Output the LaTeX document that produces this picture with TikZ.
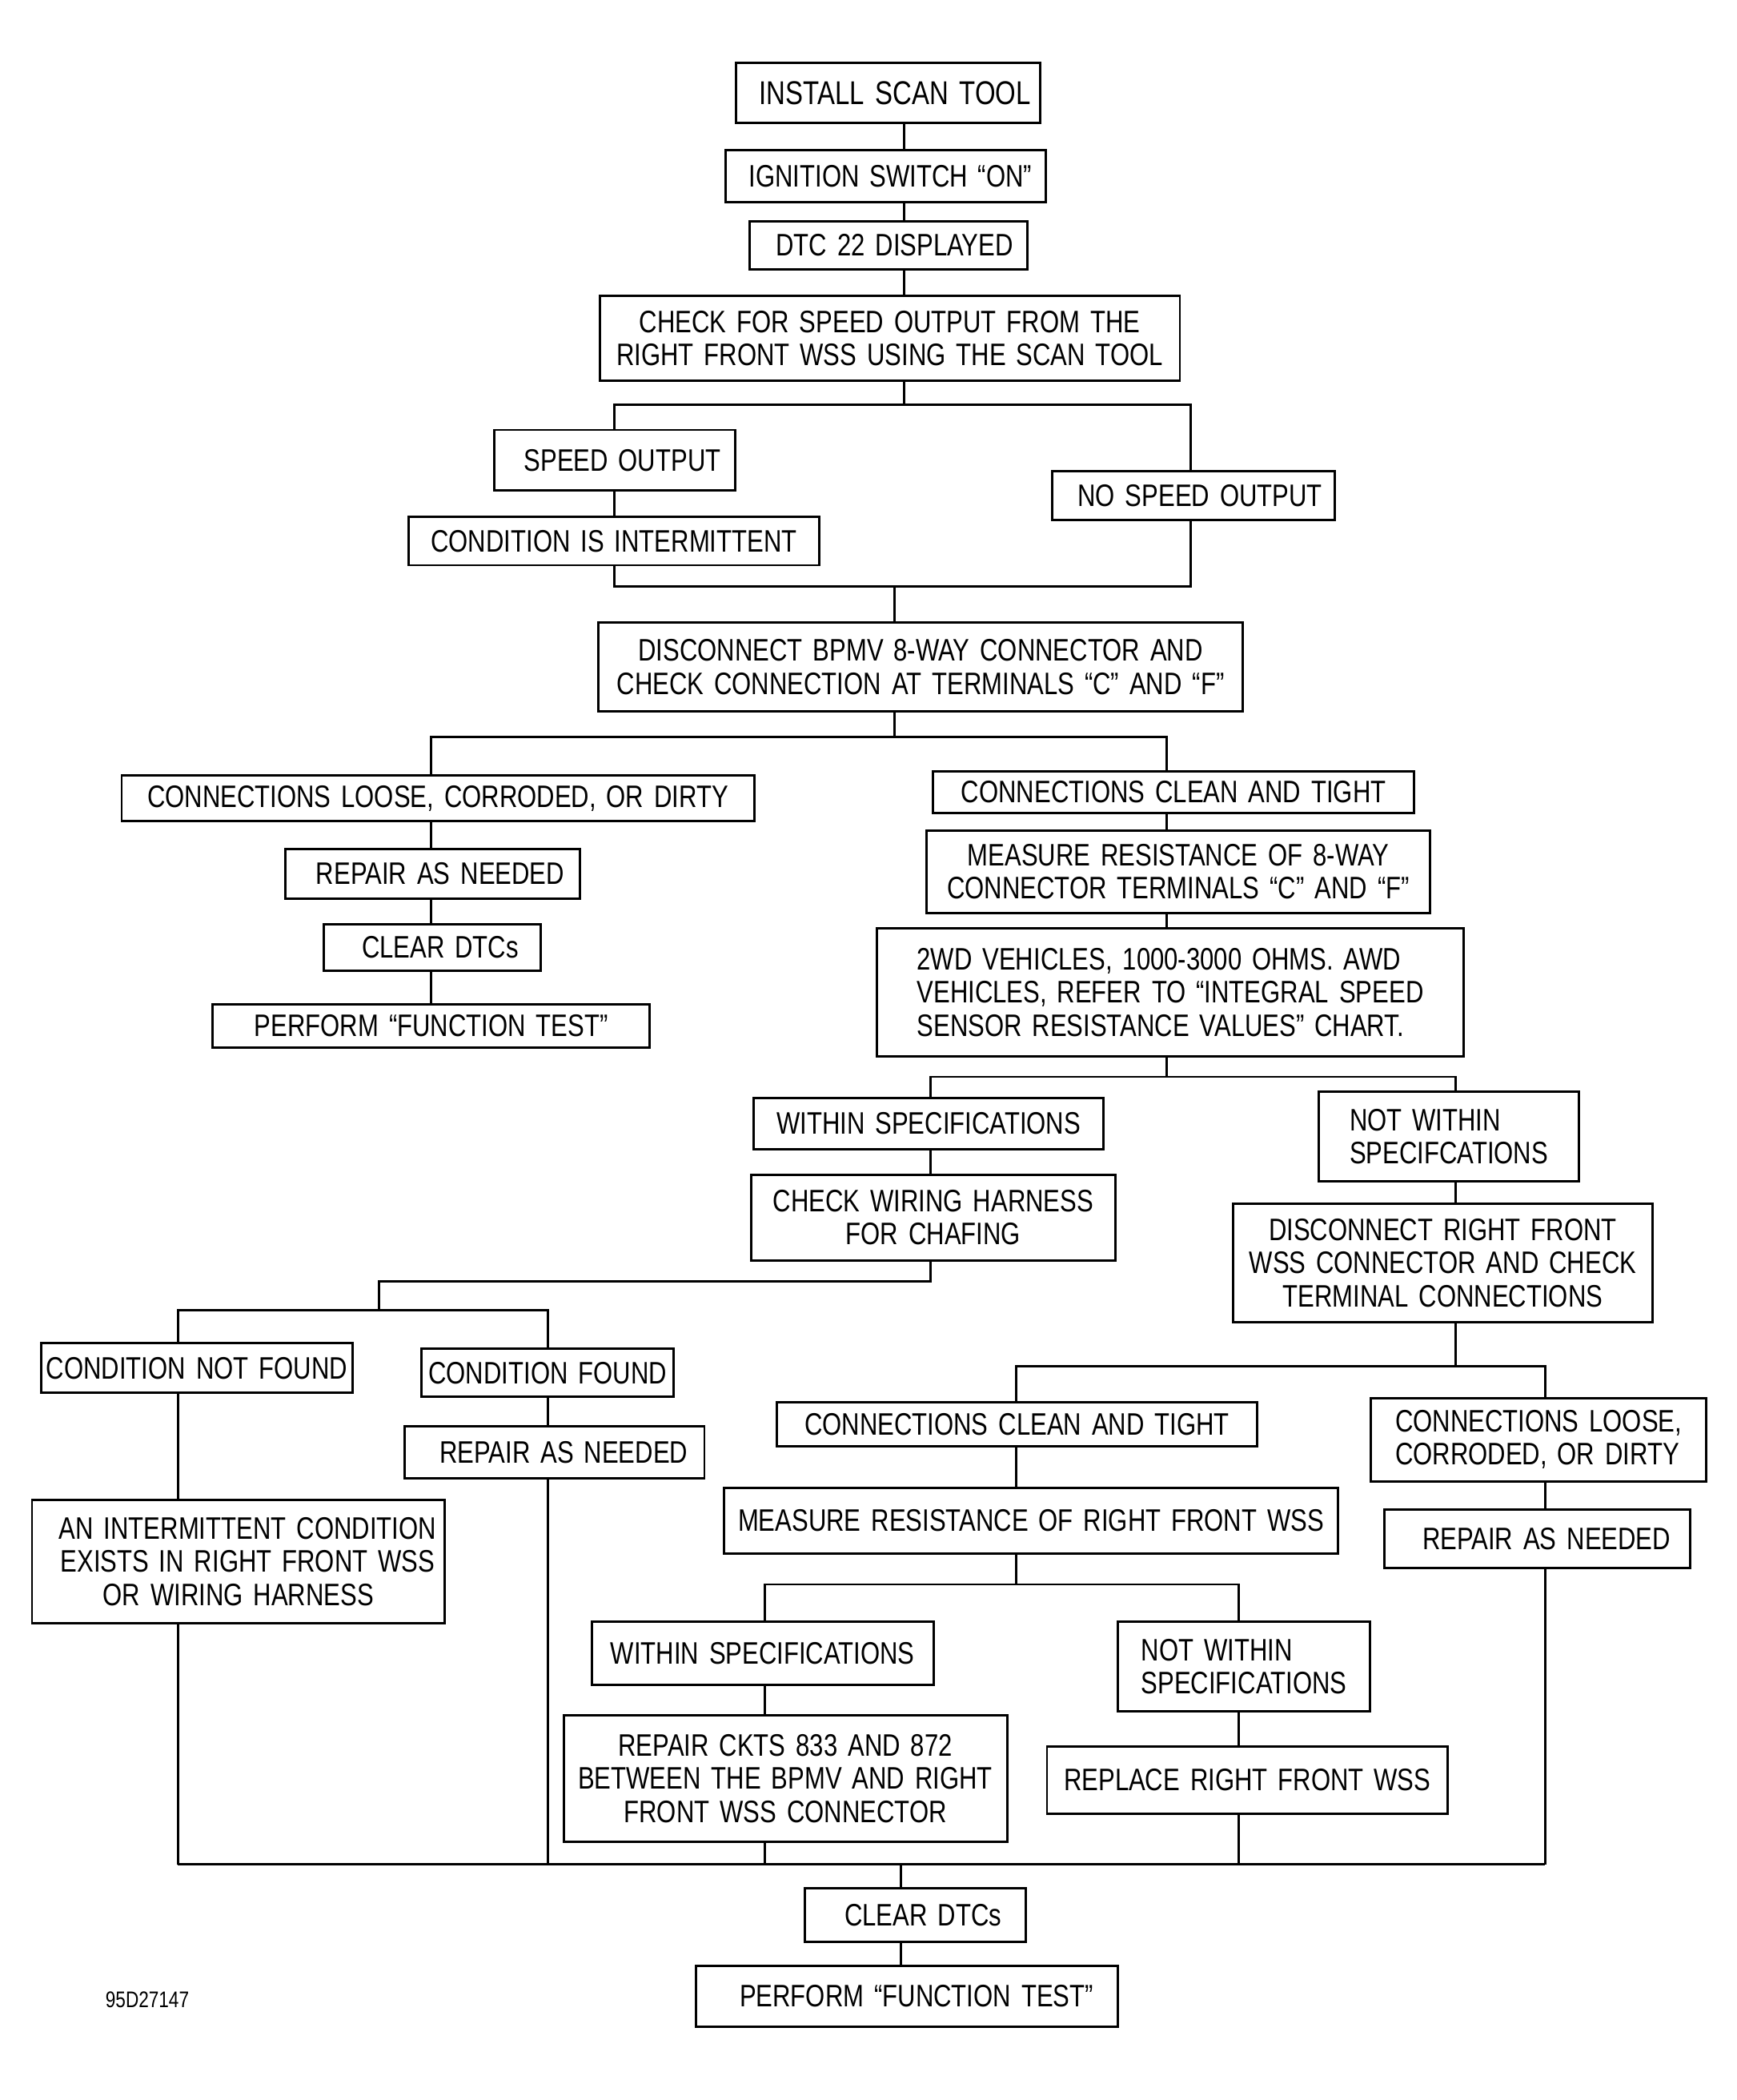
\documentclass[tikz,border=0pt]{standalone}
\usepackage{fontspec}
\setmainfont{Liberation Sans}[FakeStretch=0.8,WordSpace=1.5]
\begin{document}
\begin{tikzpicture}[x=0.01cm,y=-0.01cm,line width=0.5pt,
  box/.style={shape=rectangle,draw,align=center,inner sep=0pt,font=\fontsize{6.6}{7}\selectfont},
  lbox/.style={box,align=left}]
\useasboundingbox (0,0) rectangle (1297,1568);
\node[box,minimum width=2.27cm,minimum height=0.45cm,font=\fontsize{7}{7.5}\selectfont] (inst) at (663.5,69.5) {\hspace{0.4em}INSTALL SCAN TOOL};
\node[box,minimum width=2.39cm,minimum height=0.39cm] (ign) at (661.5,131.5) {\hspace{0.3em}IGNITION SWITCH “ON”};
\node[box,minimum width=2.07cm,minimum height=0.36cm] (dtc) at (663.5,183) {\hspace{0.4em}DTC 22 DISPLAYED};
\node[box,minimum width=4.33cm,minimum height=0.63cm] (chk) at (664.5,252.5) {CHECK FOR SPEED OUTPUT FROM THE\\RIGHT FRONT WSS USING THE SCAN TOOL};
\node[box,minimum width=1.80cm,minimum height=0.45cm] (spd) at (459,343.5) {\hspace{0.5em}SPEED OUTPUT};
\node[box,minimum width=3.07cm,minimum height=0.36cm] (cond) at (458.5,404) {CONDITION IS INTERMITTENT};
\node[box,minimum width=2.11cm,minimum height=0.36cm] (nospd) at (891.5,370) {\hspace{0.4em}NO SPEED OUTPUT};
\node[box,minimum width=4.81cm,minimum height=0.66cm] (disc) at (687.5,498) {DISCONNECT BPMV 8-WAY CONNECTOR AND\\CHECK CONNECTION AT TERMINALS “C” AND “F”};
\node[box,minimum width=4.72cm,minimum height=0.34cm] (loose) at (327,596) {CONNECTIONS LOOSE, CORRODED, OR DIRTY};
\node[box,minimum width=2.20cm,minimum height=0.37cm] (rep1) at (323,652.5) {\hspace{0.5em}REPAIR AS NEEDED};
\node[box,minimum width=1.62cm,minimum height=0.35cm] (clr1) at (323,707.5) {\hspace{0.5em}CLEAR DTCs};
\node[box,minimum width=3.26cm,minimum height=0.32cm] (perf1) at (322,766) {PERFORM “FUNCTION TEST”};
\node[box,minimum width=3.59cm,minimum height=0.31cm] (clean) at (876.5,591.5) {CONNECTIONS CLEAN AND TIGHT};
\node[box,minimum width=3.76cm,minimum height=0.62cm] (meas) at (880,651) {MEASURE RESISTANCE OF 8-WAY\\CONNECTOR TERMINALS “C” AND “F”};
\node[lbox,minimum width=4.38cm,minimum height=0.96cm] (twowd) at (874,741) {2WD VEHICLES, 1000-3000 OHMS. AWD\\VEHICLES, REFER TO “INTEGRAL SPEED\\SENSOR RESISTANCE VALUES” CHART.};
\node[box,minimum width=2.61cm,minimum height=0.38cm] (within) at (693.5,839) {WITHIN SPECIFICATIONS};
\node[box,minimum width=2.72cm,minimum height=0.64cm] (wiring) at (697,909) {CHECK WIRING HARNESS\\FOR CHAFING};
\node[lbox,minimum width=1.94cm,minimum height=0.67cm] (notw) at (1082,848.5) {NOT WITHIN\\SPECIFCATIONS};
\node[box,minimum width=3.13cm,minimum height=0.88cm] (discwss) at (1077.5,943) {DISCONNECT RIGHT FRONT\\WSS CONNECTOR AND CHECK\\TERMINAL CONNECTIONS};
\node[box,minimum width=2.32cm,minimum height=0.37cm] (cnf) at (147,1021.5) {CONDITION NOT FOUND};
\node[box,minimum width=1.88cm,minimum height=0.36cm] (cf) at (409,1025) {CONDITION FOUND};
\node[box,minimum width=2.24cm,minimum height=0.39cm] (rep2) at (414,1084.5) {\hspace{0.6em}REPAIR AS NEEDED};
\node[box,minimum width=3.08cm,minimum height=0.92cm] (inter) at (178,1166) {\hspace{0.6em}AN INTERMITTENT CONDITION\\\hspace{0.6em}EXISTS IN RIGHT FRONT WSS\\OR WIRING HARNESS};
\node[box,minimum width=3.59cm,minimum height=0.33cm] (clean2) at (759.5,1063.5) {CONNECTIONS CLEAN AND TIGHT};
\node[lbox,minimum width=2.50cm,minimum height=0.62cm] (loose2) at (1149,1075) {CONNECTIONS LOOSE,\\CORRODED, OR DIRTY};
\node[box,minimum width=4.58cm,minimum height=0.49cm] (meas2) at (770,1135.5) {MEASURE RESISTANCE OF RIGHT FRONT WSS};
\node[box,minimum width=2.28cm,minimum height=0.44cm] (rep3) at (1148,1149) {\hspace{0.6em}REPAIR AS NEEDED};
\node[box,minimum width=2.55cm,minimum height=0.47cm] (within2) at (569.5,1234.5) {WITHIN SPECIFICATIONS};
\node[box,minimum width=3.31cm,minimum height=0.94cm] (ckts) at (586.5,1328) {REPAIR CKTS 833 AND 872\\BETWEEN THE BPMV AND RIGHT\\FRONT WSS CONNECTOR};
\node[lbox,minimum width=1.88cm,minimum height=0.67cm] (notw2) at (929,1244.5) {NOT WITHIN\\SPECIFICATIONS};
\node[box,minimum width=2.99cm,minimum height=0.50cm] (repl) at (931.5,1329) {REPLACE RIGHT FRONT WSS};
\node[box,minimum width=1.65cm,minimum height=0.40cm] (clr2) at (683.5,1430) {\hspace{0.5em}CLEAR DTCs};
\node[box,minimum width=3.15cm,minimum height=0.45cm] (perf2) at (677.5,1490.5) {\hspace{0.6em}PERFORM “FUNCTION TEST”};
\node[font=\fontsize{4.8}{5}\selectfont] (fig) at (110,1493) {95D27147};
\coordinate (j1) at (675,302);
\coordinate (r1) at (889,302);
\coordinate (j2) at (668,438);
\coordinate (l2) at (459,438);
\coordinate (r2) at (889,438);
\coordinate (j3) at (668,550);
\coordinate (l3) at (322,550);
\coordinate (r3) at (871,550);
\coordinate (l4) at (695,804);
\coordinate (r4) at (1087,804);
\coordinate (j5) at (695,957);
\coordinate (j6) at (283,957);
\coordinate (l6) at (133,978);
\coordinate (r6) at (409,978);
\coordinate (j7) at (1087,1020);
\coordinate (l7) at (759,1020);
\coordinate (r7) at (1154,1020);
\coordinate (j8) at (759,1183);
\coordinate (l8) at (571,1183);
\coordinate (r8) at (925,1183);
\coordinate (j9) at (673,1392);
\coordinate (l9) at (133,1392);
\coordinate (r9) at (1154,1392);
\draw (inst.south -| j1) -- (ign.north -| j1);
\draw (ign.south -| j1) -- (dtc.north -| j1);
\draw (dtc.south -| j1) -- (chk.north -| j1);
\draw (chk.south -| j1) -- (j1);
\draw (spd.north) -- (spd.north |- j1) -- (r1) -- (nospd.north -| r1);
\draw (spd.south) -- (cond.north -| spd);
\draw (cond.south -| l2) -- (l2) -- (r2) -- (nospd.south -| r2);
\draw (j2) -- (disc.north -| j2);
\draw (disc.south -| j3) -- (j3);
\draw (loose.north -| l3) -- (l3) -- (r3) -- (clean.north -| r3);
\draw (loose.south -| l3) -- (rep1.north -| l3);
\draw (rep1.south -| l3) -- (clr1.north -| l3);
\draw (clr1.south -| l3) -- (perf1.north -| l3);
\draw (clean.south -| r3) -- (meas.north -| r3);
\draw (meas.south -| r3) -- (twowd.north -| r3);
\draw (twowd.south -| r3) -- (r3 |- l4);
\draw (within.north -| l4) -- (l4) -- (r4) -- (notw.north -| r4);
\draw (within.south -| l4) -- (wiring.north -| l4);
\draw (wiring.south -| j5) -- (j5) -- (j6) -- (j6 |- l6);
\draw (cnf.north -| l6) -- (l6) -- (r6) -- (cf.north -| r6);
\draw (cf.south -| r6) -- (rep2.north -| r6);
\draw (rep2.south -| r6) -- (r6 |- j9);
\draw (cnf.south -| l6) -- (inter.north -| l6);
\draw (inter.south -| l6) -- (l9);
\draw (notw.south -| r4) -- (discwss.north -| r4);
\draw (discwss.south -| j7) -- (j7);
\draw (clean2.north -| l7) -- (l7) -- (r7) -- (loose2.north -| r7);
\draw (clean2.south -| l7) -- (meas2.north -| l7);
\draw (meas2.south -| j8) -- (j8);
\draw (within2.north -| l8) -- (l8) -- (r8) -- (notw2.north -| r8);
\draw (within2.south -| l8) -- (ckts.north -| l8);
\draw (ckts.south -| l8) -- (l8 |- j9);
\draw (notw2.south -| r8) -- (repl.north -| r8);
\draw (repl.south -| r8) -- (r8 |- j9);
\draw (loose2.south -| r7) -- (rep3.north -| r7);
\draw (rep3.south -| r7) -- (r9);
\draw (l9) -- (r9);
\draw (j9) -- (clr2.north -| j9);
\draw (clr2.south -| j9) -- (perf2.north -| j9);
\end{tikzpicture}
\end{document}
